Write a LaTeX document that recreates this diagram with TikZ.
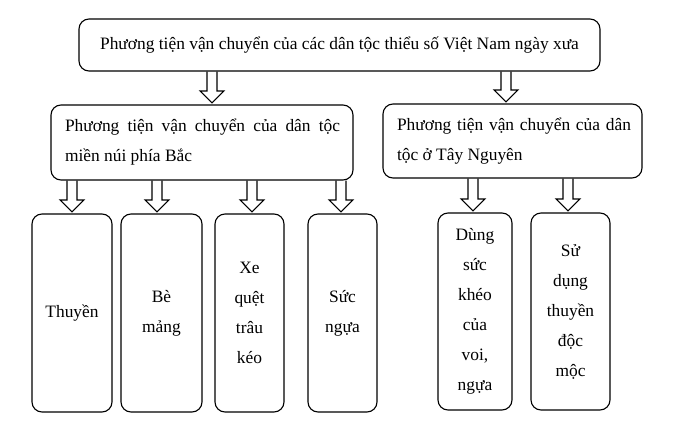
\documentclass[tikz,border=0pt]{standalone}
\usepackage{fontspec}
\setmainfont{Liberation Serif}
\usetikzlibrary{calc}
\tikzset{
  txt/.style={font=\fontsize{17.4}{30}\selectfont},
  box/.style={draw, line width=1.1pt, rounded corners=10pt, inner sep=0pt, txt},
  blk/.style={draw, line width=1.1pt, line join=miter}
}
\newcommand\blockarrow[3]{%
  \draw[blk] let \p1=(#2.south), \p2=(#3.north), \p3=(#1,0) in
    (\x3-5pt,\y1) -- (\x3-5pt,\y2+13.5pt) -- (\x3-12pt,\y2+13.5pt) -- (\x3,\y2+1.5pt)
    -- (\x3+12pt,\y2+13.5pt) -- (\x3+5pt,\y2+13.5pt) -- (\x3+5pt,\y1);}
\begin{document}
\begin{tikzpicture}[x=1pt,y=-1pt]
\useasboundingbox[fill=white] (0,0) rectangle (677,423);
\node[box, minimum width=521pt, minimum height=52pt] (top) at (339.5,45)
  {Phương tiện vận chuyển của các dân tộc thiểu số Việt Nam ngày xưa};
\node[box, minimum width=302pt, minimum height=75pt] (ml) at (202,142.5) {};
\node[txt, text width=275pt, align=justify, inner sep=0pt] (mlt) at ([xshift=0.5pt]ml.center)
  {Phương tiện vận chuyển của dân tộc miền núi phía Bắc};
\node[box, minimum width=259pt, minimum height=74pt] (mr) at (512.5,141) {};
\node[txt, text width=234pt, align=justify, inner sep=0pt] (mrt) at ([xshift=1.5pt]mr.center)
  {Phương tiện vận chuyển của dân tộc ở Tây Nguyên};
\node[box, minimum width=80pt, minimum height=198pt, align=center] (b1) at (72,313) {Thuyền};
\node[box, minimum width=81pt, minimum height=198pt, align=center] (b2) at (161.5,313) {Bè\\mảng};
\node[box, minimum width=69pt, minimum height=198pt, align=center] (b3) at (249.5,313) {Xe\\quệt\\trâu\\kéo};
\node[box, minimum width=69pt, minimum height=198pt, align=center] (b4) at (342.5,313) {Sức\\ngựa};
\node[box, minimum width=74pt, minimum height=197pt, align=center] (b5) at (475,311.5) {Dùng\\sức\\khéo\\của\\voi,\\ngựa};
\node[box, minimum width=79pt, minimum height=197pt, align=center] (b6) at (570.5,311.5) {Sử\\dụng\\thuyền\\độc\\mộc};
\blockarrow{212}{top}{ml}
\blockarrow{506}{top}{mr}
\blockarrow{72}{ml}{b1}
\blockarrow{157}{ml}{b2}
\blockarrow{252}{ml}{b3}
\blockarrow{341}{ml}{b4}
\blockarrow{473}{mr}{b5}
\blockarrow{568}{mr}{b6}
\end{tikzpicture}
\end{document}
